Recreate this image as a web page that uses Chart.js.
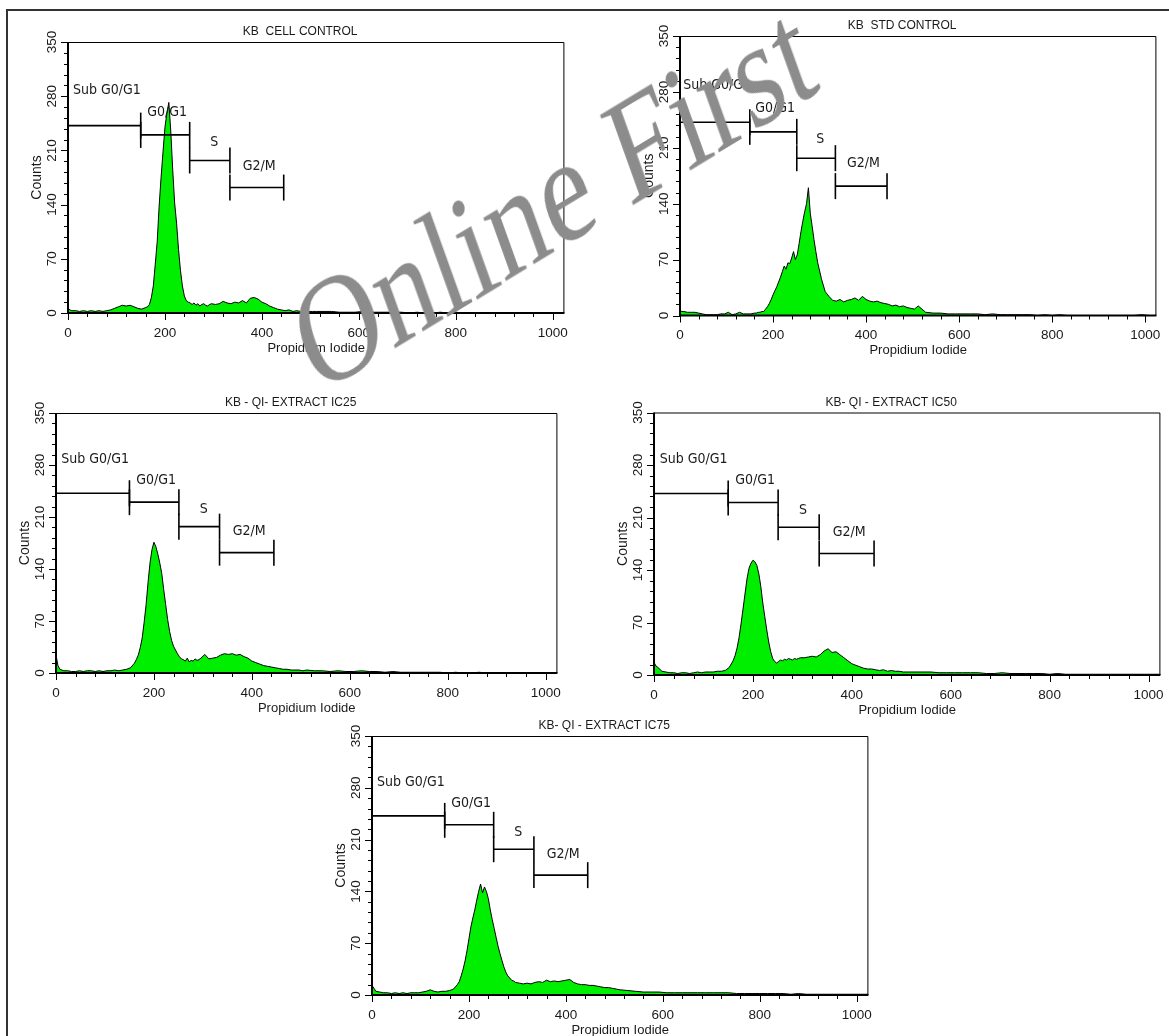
<!DOCTYPE html>
<html>
<head>
<meta charset="utf-8">
<script src="https://cdn.jsdelivr.net/npm/chart.js@4.4.1/dist/chart.umd.min.js"></script>
<style>
  html, body { margin: 0; padding: 0; background: #fff; }
  body { width: 1169px; height: 1036px; position: relative; overflow: hidden; }
  #frame { position: absolute; left: 6px; top: 9px; width: 1200px; height: 1100px; border-left: 2px solid #333; border-top: 2px solid #333; }
  canvas { position: absolute; }
  #stamp { position: absolute; left: 553px; top: 197px; transform: translate(-50%, -50%) scaleY(1.3) rotate(-25deg);
           font: 116px "Liberation Serif", serif; color: #8c8c8c; white-space: nowrap; line-height: 1; }
</style>
</head>
<body>
<div id="frame"></div>
<canvas id="p0"></canvas>
<canvas id="p1"></canvas>
<canvas id="p2"></canvas>
<canvas id="p3"></canvas>
<canvas id="p4"></canvas>
<div id="stamp">Online First</div>
<script>
// PI channel (x) shared by all five histograms
const channels = [
  0, 4, 8, 16, 24, 32, 40, 48, 56, 64, 72, 80, 88, 96, 104, 112, 120, 128, 136, 144, 152, 160,
  164, 168, 172, 176, 180, 184, 188, 192, 196, 200, 204, 208, 212, 216, 220, 224, 228, 232, 236, 240, 244, 248, 252, 256, 260, 264, 268, 272, 276, 280, 284, 288, 292, 296,
  304, 312, 320, 328, 336, 344, 352, 360, 368, 376, 384, 392, 400, 408, 416, 424, 432, 440, 448, 456, 464, 472, 480, 488, 496, 504, 512,
  528, 544, 560, 576, 592, 608, 624, 640, 656, 672, 688, 704, 720, 736, 752, 768, 784, 800, 816, 832, 848, 864, 880, 896, 912, 928, 944, 960, 976, 992, 1008, 1024
];

const cellControl = [
  6, 4, 3, 3, 2, 3, 2, 3, 2, 3, 2, 3, 4, 6, 8, 10, 9, 10, 8, 6, 5, 7,
  8, 11, 20, 35, 63, 92, 138, 175, 208, 240, 258, 272, 235, 185, 142, 116, 82, 55, 35, 22, 16, 14, 13, 11, 13, 10, 12, 9, 11, 12, 10, 9, 11, 12,
  11, 12, 15, 13, 12, 14, 13, 16, 13, 19, 20, 18, 14, 12, 9, 7, 5, 4, 3, 4, 2, 3, 2, 2, 2, 2, 2,
  2, 2, 1, 1, 1, 2, 1, 1, 1, 1, 1, 0, 1, 0, 0, 1, 0, 1, 0, 0, 0, 0, 0, 0, 0, 0, 0, 0, 0, 0, 0, 0
];

const stdControl = [
  6, 5, 5, 4, 4, 4, 3, 2, 1, 1, 1, 1, 2, 2, 4, 1, 2, 4, 2, 2, 2, 3,
  3, 4, 4, 5, 5, 8, 11, 15, 20, 26, 31, 36, 42, 48, 55, 62, 58, 66, 65, 72, 80, 70, 76, 90, 105, 118, 130, 140, 160, 128, 112, 95, 80, 66,
  46, 30, 24, 19, 18, 20, 17, 19, 20, 22, 19, 24, 20, 18, 17, 18, 16, 15, 14, 12, 13, 11, 12, 10, 9, 8, 12,
  4, 3, 3, 2, 2, 2, 2, 2, 1, 2, 1, 1, 1, 1, 1, 0, 1, 0, 1, 0, 0, 0, 0, 0, 0, 0, 0, 0, 0, 1, 0, 0
];

const extractIC25 = [
  24, 10, 5, 3, 3, 2, 2, 3, 2, 3, 3, 2, 3, 2, 3, 3, 4, 3, 4, 5, 7, 13,
  18, 24, 34, 47, 68, 92, 122, 148, 166, 176, 170, 160, 148, 134, 112, 92, 72, 56, 44, 36, 31, 26, 22, 19, 18, 16, 20, 15, 17, 16, 19, 17, 18, 20,
  25, 19, 20, 21, 24, 26, 25, 26, 24, 25, 22, 20, 16, 14, 12, 10, 9, 8, 7, 6, 5, 5, 4, 4, 4, 3, 4,
  3, 3, 2, 3, 2, 2, 3, 2, 2, 1, 2, 1, 1, 1, 1, 1, 1, 0, 1, 0, 0, 1, 0, 0, 0, 0, 0, 0, 0, 0, 0, 0
];

const extractIC50 = [
  17, 12, 10, 5, 4, 3, 3, 2, 3, 3, 2, 3, 4, 3, 4, 4, 4, 5, 5, 6, 10, 19,
  26, 36, 50, 68, 88, 108, 128, 142, 149, 153, 151, 146, 135, 118, 96, 78, 60, 44, 31, 22, 18, 16, 18, 20, 19, 21, 20, 22, 21, 20, 22, 21, 22, 23,
  23, 24, 25, 24, 27, 32, 35, 30, 31, 27, 23, 19, 15, 13, 11, 9, 8, 8, 7, 6, 7, 5, 6, 5, 5, 4, 4,
  4, 4, 4, 3, 3, 3, 3, 3, 3, 2, 2, 3, 2, 2, 2, 2, 2, 1, 2, 1, 1, 1, 1, 1, 1, 1, 1, 1, 1, 1, 1, 1
];

const extractIC75 = [
  13, 9, 5, 4, 3, 3, 2, 3, 2, 3, 2, 3, 3, 3, 4, 5, 7, 5, 4, 5, 5, 6,
  7, 8, 11, 14, 18, 26, 35, 46, 60, 76, 92, 104, 115, 128, 140, 150, 138, 146, 140, 130, 115, 102, 90, 78, 66, 56, 47, 38, 31, 26, 23, 20, 19, 17,
  16, 15, 16, 15, 17, 18, 17, 20, 18, 19, 18, 19, 20, 21, 17, 15, 14, 14, 13, 13, 12, 11, 10, 10, 9, 8, 7,
  6, 5, 4, 4, 4, 3, 3, 3, 3, 3, 3, 3, 3, 3, 2, 2, 2, 2, 2, 2, 2, 1, 2, 1, 1, 1, 1, 1, 1, 1, 1, 1
];

const titles = ["KB  CELL CONTROL", "KB  STD CONTROL", "KB - QI- EXTRACT IC25", "KB- QI - EXTRACT IC50", "KB- QI - EXTRACT IC75"];
const series = [cellControl, stdControl, extractIC25, extractIC50, extractIC75];

// cell-cycle marker gates
const gateNames = ["Sub G0/G1", "G0/G1", "S", "G2/M"];
const gateStart = [0, 150, 251, 334];
const gateEnd = [150, 251, 334, 445];
const gateLevel = [242, 230, 197, 162];

const xTickValues = [0, 200, 400, 600, 800, 1000];
const yTickValues = [0, 70, 140, 210, 280, 350];

// plot boxes on the page: left, top, right, bottom
const boxes = [
  [68, 42, 567, 313],
  [680, 36, 1159, 315.5],
  [56, 413, 560, 673],
  [654, 412.5, 1163, 675],
  [372, 736, 871, 995]
];

const labelShift = [[5, 46], [4, 29], [9, 23], [5, 28]];
const ink = "#1a1a1a";

const panelDecor = {
  id: "panelDecor",
  afterDraw(chart, args, opts) {
    const { ctx, chartArea: a, scales: { x, y } } = chart;
    ctx.save();

    // frame: thin top/right, heavier axes
    ctx.strokeStyle = "#000";
    ctx.lineWidth = 1;
    ctx.beginPath();
    ctx.moveTo(a.left, a.top + 0.5);
    ctx.lineTo(a.right - 0.5, a.top + 0.5);
    ctx.lineTo(a.right - 0.5, a.bottom);
    ctx.stroke();
    ctx.lineWidth = 2;
    ctx.beginPath();
    ctx.moveTo(a.left, a.top);
    ctx.lineTo(a.left, a.bottom);
    ctx.lineTo(a.right, a.bottom);
    ctx.stroke();

    // tick marks
    ctx.lineWidth = 1;
    ctx.beginPath();
    for (let v = 0; v <= 1000; v += 40) {
      const px = Math.round(x.getPixelForValue(v)) + 0.5;
      const len = v % 200 === 0 ? 7 : 4;
      ctx.moveTo(px, a.bottom);
      ctx.lineTo(px, a.bottom + len);
    }
    for (let v = 0; v <= 350; v += 14) {
      const py = Math.round(y.getPixelForValue(v)) + 0.5;
      const len = v % 70 === 0 ? 7 : 4;
      ctx.moveTo(a.left, py);
      ctx.lineTo(a.left - len, py);
    }
    ctx.stroke();

    ctx.fillStyle = ink;
    ctx.textAlign = "center";
    ctx.textBaseline = "middle";

    // title
    ctx.font = '12px "Liberation Sans", Arial, sans-serif';
    ctx.fillText(opts.title, (a.left + a.right) / 2 - 16, a.top - 10);

    // x tick labels and title
    ctx.font = '13.5px "Liberation Sans", Arial, sans-serif';
    xTickValues.forEach(v => ctx.fillText(String(v), x.getPixelForValue(v), a.bottom + 20));
    ctx.font = '13px "Liberation Sans", Arial, sans-serif';
    ctx.fillText("Propidium Iodide", (a.left + a.right) / 2, a.bottom + 35);

    // y tick labels, rotated
    ctx.font = '13.5px "Liberation Sans", Arial, sans-serif';
    yTickValues.forEach(v => {
      ctx.save();
      ctx.translate(a.left - 15.5, y.getPixelForValue(v));
      ctx.rotate(-Math.PI / 2);
      ctx.fillText(String(v), 0, 0);
      ctx.restore();
    });
    ctx.save();
    ctx.font = '14px "Liberation Sans", Arial, sans-serif';
    ctx.translate(a.left - 31, (a.top + a.bottom) / 2);
    ctx.rotate(-Math.PI / 2);
    ctx.fillText("Counts", 0, 0);
    ctx.restore();

    // gate labels
    ctx.font = '14px "DejaVu Sans Condensed", "DejaVu Sans", sans-serif';
    gateNames.forEach((name, i) => {
      const cx = (gateStart[i] + gateEnd[i]) / 2 + labelShift[i][0];
      const cy = gateLevel[i] + labelShift[i][1];
      ctx.fillText(name, x.getPixelForValue(cx), y.getPixelForValue(cy));
    });

    ctx.restore();
  }
};

const M = { l: 50, t: 30, r: 12, b: 45 };

boxes.forEach((box, k) => {
  const canvas = document.getElementById("p" + k);
  const left = Math.floor(box[0] - M.l);
  const top = Math.floor(box[1] - M.t);
  const width = Math.ceil(box[2] + M.r) - left;
  const height = Math.ceil(box[3] + M.b) - top;
  canvas.style.left = left + "px";
  canvas.style.top = top + "px";
  canvas.width = width;
  canvas.height = height;
  canvas.style.width = width + "px";
  canvas.style.height = height + "px";

  const gates = gateNames.map((name, i) => ({
    label: name,
    data: [{ x: gateStart[i], y: gateLevel[i] }, { x: gateEnd[i], y: gateLevel[i] }],
    borderColor: "#000",
    borderWidth: 1.6,
    pointStyle: "line",
    pointRotation: 90,
    pointRadius: 13,
    pointBorderWidth: 1.6,
    pointBorderColor: "#000",
    fill: false,
    clip: false,
    order: 0
  }));

  new Chart(canvas, {
    type: "line",
    data: {
      datasets: [
        {
          label: titles[k],
          data: channels.map((c, i) => ({ x: c, y: series[k][i] })),
          borderColor: "#000",
          borderWidth: 1,
          backgroundColor: "#00ee00",
          fill: "origin",
          pointRadius: 0,
          tension: 0,
          order: 1
        },
        ...gates
      ]
    },
    options: {
      responsive: false,
      animation: false,
      layout: {
        padding: {
          left: box[0] - left,
          top: box[1] - top,
          right: left + width - box[2],
          bottom: top + height - box[3]
        }
      },
      plugins: {
        legend: { display: false },
        tooltip: { enabled: false },
        panelDecor: { title: titles[k] }
      },
      scales: {
        x: { type: "linear", min: 0, max: 1024, display: false },
        y: { type: "linear", min: 0, max: 350, display: false }
      }
    },
    plugins: [panelDecor]
  });
});
</script>
</body>
</html>
